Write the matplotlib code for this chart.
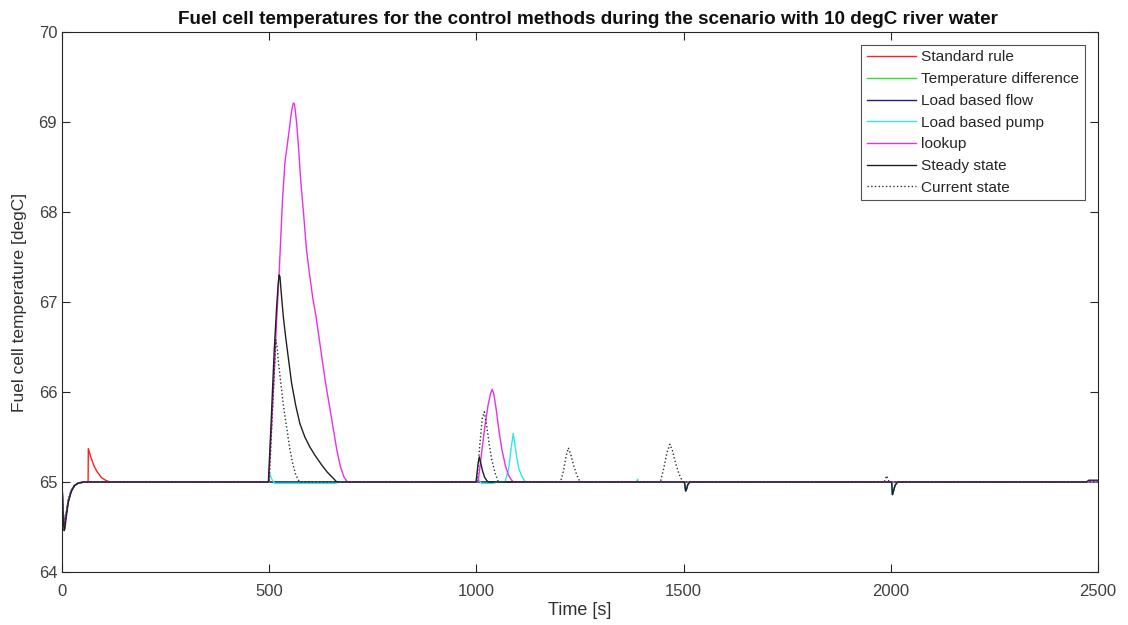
import matplotlib
matplotlib.use("Agg")
import matplotlib.pyplot as plt

plt.rcParams['font.family'] = ['Liberation Sans', 'DejaVu Sans']

# ---------------- data ----------------
dip_t = [0, 2, 5, 7, 10, 15, 22, 30, 40, 55]
dip_v = [65.0, 64.72, 64.53, 64.55, 64.64, 64.79, 64.9, 64.96, 64.99, 65.0]
dip_black_v = [65.0, 64.68, 64.46, 64.48, 64.6, 64.77, 64.89, 64.96, 64.99, 65.0]

dip1500_t = [1502, 1505, 1507, 1510, 1515]
dip1500_v = [65.0, 64.9, 64.92, 64.97, 65.0]
dip2000_t = [2002, 2004, 2006, 2010, 2016]
dip2000_v = [65.0, 64.86, 64.89, 64.96, 65.0]

red_t = dip_t + [63, 63.5, 70, 77, 84, 95, 105, 116, 2500]
red_v = dip_v + [65.0, 65.37, 65.27, 65.18, 65.12, 65.05, 65.02, 65.0, 65.0]

green_t = dip_t + [2500]
green_v = dip_v + [65.0]

blue_t = dip_t + dip1500_t + dip2000_t + [2500]
blue_v = dip_v + dip1500_v + dip2000_v + [65.0]

cyan_t = dip_t + [499, 500, 505, 513, 660, 668,
                  1000, 1002, 1006, 1012, 1040, 1050,
                  1069, 1078, 1084, 1089, 1092, 1097, 1103, 1110, 1117, 1122,
                  1386, 1389, 1392] + dip1500_t + dip2000_t + [2500]
cyan_v = dip_v + [65.0, 65.11, 65.04, 64.985, 64.985, 65.0,
                  65.0, 65.05, 65.02, 64.985, 64.985, 65.0,
                  65.0, 65.15, 65.38, 65.54, 65.45, 65.28, 65.14, 65.06, 65.01, 65.0,
                  65.0, 65.03, 65.0] + dip1500_v + dip2000_v + [65.0]

magenta_t = dip_t + [499, 505, 512, 518, 524, 532, 538, 542, 548, 554, 558, 561,
                     566, 571, 576, 583, 590, 597, 605, 613, 625, 636, 650, 663,
                     672, 680, 687, 692,
                     1004, 1012, 1020, 1028, 1034, 1038, 1042, 1048, 1055, 1062,
                     1070, 1078, 1085, 1090, 2500]
magenta_v = dip_v + [65.0, 65.55, 66.2, 66.8, 67.32, 68.13, 68.55, 68.69, 68.9, 69.12, 69.21, 69.2,
                     69.0, 68.7, 68.35, 67.98, 67.58, 67.32, 67.05, 66.84, 66.45, 66.1, 65.72, 65.36,
                     65.17, 65.06, 65.01, 65.0,
                     65.0, 65.3, 65.6, 65.85, 65.98, 66.03, 65.98, 65.8, 65.55, 65.35,
                     65.18, 65.07, 65.02, 65.0, 65.0]

black_t = dip_t + [498, 505, 512, 518, 522, 524, 526, 530, 534, 540, 547, 554, 564,
                   574, 586, 598, 610, 625, 640, 655, 663,
                   999, 1004, 1007, 1010, 1015, 1020, 1026, 1030] + dip1500_t + dip2000_t + \
          [2472, 2478, 2500]
black_v = dip_black_v + [65.0, 65.7, 66.45, 66.95, 67.22, 67.3, 67.28, 67.05, 66.84, 66.6, 66.35, 66.1, 65.85,
                         65.65, 65.5, 65.39, 65.3, 65.2, 65.11, 65.04, 65.0,
                         65.0, 65.2, 65.28, 65.22, 65.12, 65.05, 65.01, 65.0] + dip1500_v + dip2000_v + \
          [65.0, 65.02, 65.02]

dotted_t = dip_t + [500, 506, 512, 516, 519, 523, 528, 533, 538, 544, 550, 557, 564, 573,
                    1001, 1008, 1014, 1019, 1024, 1030, 1037, 1045, 1053,
                    1203, 1210, 1216, 1222, 1228, 1235, 1242, 1250,
                    1444, 1452, 1460, 1467, 1473, 1480, 1488, 1498,
                    1984, 1990, 1996, 2500]
dotted_v = dip_v + [65.0, 65.6, 66.2, 66.58, 66.5, 66.3, 66.1, 65.9, 65.73, 65.55, 65.36, 65.2, 65.08, 65.0,
                    65.0, 65.4, 65.7, 65.78, 65.65, 65.45, 65.25, 65.1, 65.0,
                    65.0, 65.12, 65.28, 65.38, 65.3, 65.18, 65.08, 65.0,
                    65.0, 65.15, 65.33, 65.42, 65.35, 65.22, 65.1, 65.0,
                    65.0, 65.07, 65.0, 65.0]

labels = ["Standard rule", "Temperature difference", "Load based flow",
          "Load based pump", "lookup", "Steady state", "Current state"]
x_ticks = [0, 500, 1000, 1500, 2000, 2500]
y_ticks = [64, 65, 66, 67, 68, 69, 70]

# ---------------- figure ----------------
fig = plt.figure(figsize=(11.28, 6.25), dpi=100)
ax = fig.add_axes([62 / 1128, 1 - 572 / 625, (1098 - 62) / 1128, (572 - 32) / 625])

series = [
    (red_t, red_v, '#ff2020', '-'),
    (green_t, green_v, '#30e030', '-'),
    (blue_t, blue_v, '#20207a', '-'),
    (cyan_t, cyan_v, '#30e8e8', '-'),
    (magenta_t, magenta_v, '#e830e8', '-'),
    (black_t, black_v, '#202020', '-'),
    (dotted_t, dotted_v, '#303030', ':'),
]
for (t, v, c, ls), lab in zip(series, labels):
    ax.plot(t, v, color=c, linestyle=ls, linewidth=1.0, label=lab)

ax.set_xlim(0, 2500)
ax.set_ylim(64, 70)
ax.set_xticks(x_ticks)
ax.set_yticks(y_ticks)
ax.tick_params(direction='in', top=True, right=True, length=6, labelsize=12,
               colors='#262626', width=0.8, labelcolor='#404040')
ax.tick_params(axis='x', pad=9)
for s in ax.spines.values():
    s.set_color('#262626')
    s.set_linewidth(0.8)

ax.set_xlabel("Time [s]", fontsize=13, color='#303030', labelpad=2)
ax.set_ylabel("Fuel cell temperature [degC]", fontsize=12.5, color='#303030', labelpad=8)
ax.set_title("Fuel cell temperatures for the control methods during the scenario with 10 degC river water",
             fontsize=13.6, fontweight='bold', color='#101010', pad=6, x=0.508)

leg = ax.legend(loc='upper right', fontsize=11.1, frameon=True, fancybox=False,
                edgecolor='#262626', handlelength=3.2, handletextpad=0.35,
                labelspacing=0.5, borderaxespad=0.85, borderpad=0.35)
leg.get_frame().set_linewidth(0.8)
for txt in leg.get_texts():
    txt.set_color('#262626')

fig.savefig("out.png", dpi=100)
